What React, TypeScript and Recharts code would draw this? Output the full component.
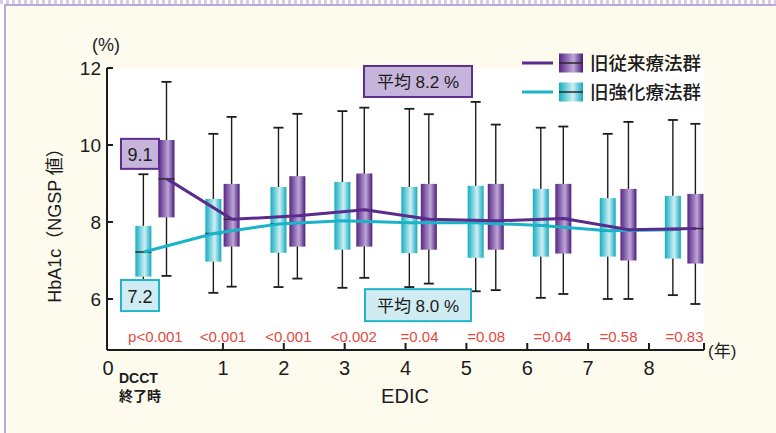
import React from 'react';
import {
  ComposedChart,
  Bar,
  Line,
  Scatter,
  XAxis,
  YAxis,
  CartesianGrid,
  ReferenceDot,
  Legend,
} from 'recharts';

const FONT = "'Liberation Sans', 'Noto Sans CJK JP', sans-serif";
const JP = "'Noto Sans CJK JP', 'Liberation Sans', sans-serif";

const PURPLE = '#5a2a8c';
const CYAN = '#1ab3c8';
const INK = '#1c1c1c';

// 群名
const groupNames = { purple: '旧従来療法群', cyan: '旧強化療法群' };

// 各箱の位置（EDIC 年）
const cyanX = [-0.3, 0.85, 1.92, 2.97, 4.07, 5.16, 6.23, 7.33, 8.4];
const purpleX = [0.08, 1.15, 2.23, 3.33, 4.39, 5.49, 6.6, 7.67, 8.77];

// 旧強化療法群
const cyanMin = [6.1, 6.16, 6.31, 6.29, 6.31, 6.2, 6.03, 6.0, 6.1];
const cyanQ1 = [6.58, 6.97, 7.2, 7.28, 7.19, 7.07, 7.1, 7.1, 7.05];
const cyanMed = [7.22, 7.7, 7.95, 8.03, 7.98, 7.98, 7.91, 7.77, 7.8];
const cyanQ3 = [7.9, 8.6, 8.91, 9.04, 8.91, 8.94, 8.86, 8.62, 8.68];
const cyanMax = [9.24, 10.29, 10.45, 10.88, 10.94, 11.12, 10.45, 10.29, 10.65];

// 旧従来療法群
const purpleMin = [6.6, 6.32, 6.53, 6.55, 6.4, 6.23, 6.13, 6.0, 5.87];
const purpleQ1 = [8.12, 7.36, 7.36, 7.36, 7.28, 7.28, 7.18, 7.0, 6.92];
const purpleMed = [9.12, 8.07, 8.16, 8.32, 8.07, 8.03, 8.09, 7.8, 7.83];
const purpleQ3 = [10.13, 8.99, 9.19, 9.26, 8.99, 8.99, 8.99, 8.86, 8.73];
const purpleMax = [11.64, 10.73, 10.81, 10.97, 10.8, 10.53, 10.48, 10.6, 10.55];

const pValues = ['p<0.001', '<0.001', '<0.001', '<0.002', '=0.04', '=0.08', '=0.04', '=0.58', '=0.83'];
const P_ROW_Y = 5.0;

const yearTicks = [1, 2, 3, 4, 5, 6, 7, 8];
const yTicks = [6, 8, 10, 12];
const X_MIN = -0.905;
const X_MAX = 8.904;
const Y_MIN = 4.675;
const Y_MAX = 12;

const calloutLabels = ['9.1', '7.2', '平均 8.2 %', '平均 8.0 %'];
const calloutSpec = [
  { x: -0.363, y: 9.77, tone: 'purple', w: 38, h: 30 },
  { x: -0.363, y: 6.09, tone: 'cyan', w: 38, h: 31 },
  { x: 4.205, y: 11.65, tone: 'purple', w: 108, h: 31 },
  { x: 4.205, y: 5.84, tone: 'cyan', w: 106, h: 32 },
];

const rows = [
  ...cyanX.map((x, i) => ({
    x,
    group: 'cyan',
    range: [cyanMin[i], cyanMax[i]],
    q1: cyanQ1[i],
    med: cyanMed[i],
    q3: cyanQ3[i],
    cyanLine: cyanMed[i],
  })),
  ...purpleX.map((x, i) => ({
    x,
    group: 'purple',
    range: [purpleMin[i], purpleMax[i]],
    q1: purpleQ1[i],
    med: purpleMed[i],
    q3: purpleQ3[i],
    purpleLine: purpleMed[i],
  })),
].sort((a, b) => a.x - b.x);

const pRows = pValues.map((label, i) => ({
  x: (cyanX[i] + purpleX[i]) / 2,
  y: P_ROW_Y,
  label,
}));

const BOX_W = 16;
const CAP_W = 10;

const BoxShape = (props: any) => {
  const { x, y, width, height, payload } = props;
  const [lo, hi] = payload.range;
  const top = Math.min(y, y + height);
  const k = Math.abs(height) / (hi - lo);
  const yOf = (v: number) => top + (hi - v) * k;
  const cx = x + width / 2;
  return (
    <g>
      <line x1={cx} x2={cx} y1={yOf(hi)} y2={yOf(lo)} stroke={INK} strokeWidth={1.4} />
      <line x1={cx - CAP_W / 2} x2={cx + CAP_W / 2} y1={yOf(hi)} y2={yOf(hi)} stroke={INK} strokeWidth={1.8} />
      <line x1={cx - CAP_W / 2} x2={cx + CAP_W / 2} y1={yOf(lo)} y2={yOf(lo)} stroke={INK} strokeWidth={1.8} />
      <rect
        x={cx - BOX_W / 2}
        y={yOf(payload.q3)}
        width={BOX_W}
        height={yOf(payload.q1) - yOf(payload.q3)}
        fill={`url(#box-${payload.group})`}
      />
      <line
        x1={cx - BOX_W / 2}
        x2={cx + BOX_W / 2}
        y1={yOf(payload.med)}
        y2={yOf(payload.med)}
        stroke="#2a2a2a"
        strokeWidth={1.5}
      />
    </g>
  );
};

const XTick = (props: any) => {
  const { x, y, payload } = props;
  const v = payload.value;
  if (v === X_MIN) {
    return (
      <g>
        <text x={x + 1} y={y + 25} textAnchor="middle" fontSize={20} fontFamily={FONT} fill={INK}>0</text>
        <text x={x + 12} y={y + 33} fontSize={14} fontWeight="bold" fontFamily={FONT} fill={INK}>DCCT</text>
        <text x={x + 12} y={y + 51} fontSize={14} fontWeight="bold" fontFamily={JP} fill={INK}>終了時</text>
      </g>
    );
  }
  return (
    <g>
      <line x1={x} x2={x} y1={y} y2={y - 7} stroke={INK} strokeWidth={2} />
      {v !== X_MAX && (
        <text x={x} y={y + 25} textAnchor="middle" fontSize={20} fontFamily={FONT} fill={INK}>{v}</text>
      )}
    </g>
  );
};

const YTick = (props: any) => {
  const { x, y, payload } = props;
  return (
    <g>
      <line x1={x} x2={x + 6} y1={y} y2={y} stroke={INK} strokeWidth={2} />
      <text x={x - 6} y={y + 7} textAnchor="end" fontSize={19} fontFamily={FONT} fill={INK}>{payload.value}</text>
    </g>
  );
};

const YTitle = (props: any) => {
  const vb = props.viewBox || { x: 106, y: 68, width: 1, height: 282 };
  const axisX = vb.x + vb.width;
  const cy = vb.y + vb.height / 2 + 12;
  const lx = axisX - 52;
  return (
    <g>
      <text
        x={lx}
        y={cy}
        transform={`rotate(-90 ${lx} ${cy})`}
        textAnchor="middle"
        dominantBaseline="central"
        fontSize={18}
        fontFamily={FONT}
        fill={INK}
      >
        HbA1c（NGSP 値）
      </text>
      <text x={axisX - 1} y={vb.y - 17} textAnchor="middle" fontSize={18} fontFamily={FONT} fill={INK}>(%)</text>
    </g>
  );
};

const XTitle = (props: any) => {
  const vb = props.viewBox || { x: 107, y: 350, width: 597, height: 1 };
  return (
    <g>
      <text x={405} y={vb.y + 53} textAnchor="middle" fontSize={20} fontFamily={FONT} fill={INK}>EDIC</text>
      <text x={vb.x + vb.width + 4} y={vb.y + 7} fontSize={17} fontFamily={FONT} fill={INK}>(年)</text>
    </g>
  );
};

const calloutStyle: Record<string, { fill: string; stroke: string }> = {
  purple: { fill: '#c6b4db', stroke: '#5e2e8e' },
  cyan: { fill: '#d0ebf1', stroke: '#22b5c9' },
};

const makeCallout = (label: string, w: number, h: number, tone: string) => (p: any) => {
  const s = calloutStyle[tone];
  return (
    <g>
      <rect x={p.cx - w / 2} y={p.cy - h / 2} width={w} height={h} fill={s.fill} stroke={s.stroke} strokeWidth={2} />
      <text
        x={p.cx}
        y={p.cy + 1}
        textAnchor="middle"
        dominantBaseline="central"
        fontSize={label.length > 4 ? 17 : 18}
        fontFamily={FONT}
        fill={INK}
      >
        {label}
      </text>
    </g>
  );
};

const PLabel = (p: any) => (
  <text x={p.cx} y={p.cy + 5} textAnchor="middle" fontSize={15} fontFamily={FONT} fill="#e44a3e">
    {p.payload.label}
  </text>
);

const Gradients = ({ prefix }: { prefix: string }) => (
  <defs>
    <linearGradient id={`${prefix}-cyan`} x1="0" y1="0" x2="1" y2="0">
      <stop offset="0" stopColor="#13adc2" />
      <stop offset="0.58" stopColor="#cfeff3" />
      <stop offset="1" stopColor="#12aac0" />
    </linearGradient>
    <linearGradient id={`${prefix}-purple`} x1="0" y1="0" x2="1" y2="0">
      <stop offset="0" stopColor="#582685" />
      <stop offset="0.6" stopColor="#bda7d7" />
      <stop offset="1" stopColor="#4b1b7a" />
    </linearGradient>
  </defs>
);

const LegendBox = () => {
  const items = [
    { key: 'purple', color: PURPLE, y: 13 },
    { key: 'cyan', color: CYAN, y: 42 },
  ];
  return (
    <svg width={200} height={60}>
      <Gradients prefix="lg" />
      {items.map((it) => (
        <g key={it.key}>
          <line x1={2} x2={33} y1={it.y} y2={it.y} stroke={it.color} strokeWidth={3} />
          <rect x={39} y={it.y - 9.5} width={24} height={19} fill={`url(#lg-${it.key})`} />
          <line x1={39} x2={63} y1={it.y} y2={it.y} stroke="#2a2a2a" strokeWidth={1.5} />
          <text x={70} y={it.y + 7} fontSize={18.5} fontWeight={500} fontFamily={JP} fill={INK}>
            {groupNames[it.key as 'purple' | 'cyan']}
          </text>
        </g>
      ))}
    </svg>
  );
};

export default function App() {
  return (
    <div style={{ position: 'absolute', left: 0, top: 0, width: 776, height: 433, overflow: 'hidden', background: '#fff' }}>
      <div
        style={{
          position: 'absolute',
          left: 0,
          top: 0,
          width: 776,
          height: 4,
          background: 'repeating-linear-gradient(90deg, #d9cce8 0 3px, #ffffff 3px 6px)',
        }}
      />
      <div
        style={{
          position: 'absolute',
          left: 4,
          top: 4,
          width: 800,
          height: 460,
          background: '#fdfbee',
          borderTop: '2px solid #bca8d4',
          borderLeft: '2px solid #bca8d4',
        }}
      />
      <div style={{ position: 'absolute', left: 0, top: 0 }}>
        <ComposedChart width={776} height={433} data={rows} margin={{ top: 68, right: 72, bottom: 82, left: 106 }}>
          <Gradients prefix="box" />
          <CartesianGrid fill="#ffffff" stroke="none" horizontal={false} vertical={false} />
          <XAxis
            dataKey="x"
            type="number"
            domain={[X_MIN, X_MAX]}
            ticks={[X_MIN, ...yearTicks, X_MAX]}
            interval={0}
            allowDataOverflow
            height={1}
            tickSize={0}
            tickMargin={0}
            tickLine={false}
            axisLine={{ stroke: INK, strokeWidth: 2 }}
            tick={<XTick />}
            label={<XTitle />}
          />
          <YAxis
            type="number"
            domain={[Y_MIN, Y_MAX]}
            ticks={yTicks}
            interval={0}
            allowDataOverflow
            width={1}
            tickSize={0}
            tickMargin={0}
            tickLine={false}
            axisLine={{ stroke: INK, strokeWidth: 2 }}
            tick={<YTick />}
            label={<YTitle />}
          />
          <Bar dataKey="range" barSize={BOX_W} shape={<BoxShape />} isAnimationActive={false} />
          <Line
            dataKey="cyanLine"
            stroke={CYAN}
            strokeWidth={3}
            dot={false}
            activeDot={false}
            connectNulls
            isAnimationActive={false}
          />
          <Line
            dataKey="purpleLine"
            stroke={PURPLE}
            strokeWidth={3}
            dot={false}
            activeDot={false}
            connectNulls
            isAnimationActive={false}
          />
          <Scatter data={pRows} dataKey="y" shape={<PLabel />} isAnimationActive={false} />
          {calloutSpec.map((c, i) => (
            <ReferenceDot
              key={i}
              x={c.x}
              y={c.y}
              r={1}
              ifOverflow="visible"
              shape={makeCallout(calloutLabels[i], c.w, c.h, c.tone)}
            />
          ))}
          <Legend
            layout="horizontal"
            verticalAlign="middle"
            align="center"
            wrapperStyle={{ left: 520, top: 50, width: 200, height: 60 }}
            content={() => <LegendBox />}
          />
        </ComposedChart>
      </div>
    </div>
  );
}
